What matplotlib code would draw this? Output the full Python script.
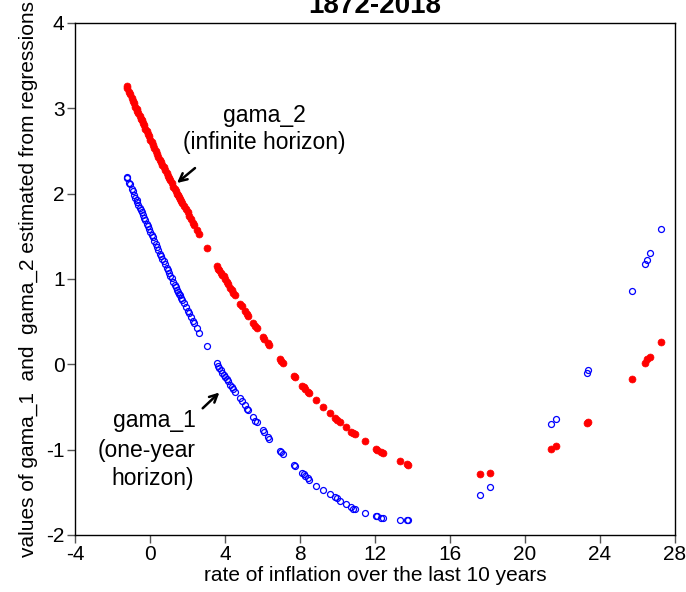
import matplotlib
matplotlib.use("Agg")
import matplotlib.pyplot as plt

plt.rcParams['font.family'] = ['Liberation Sans', 'DejaVu Sans']

# rate of inflation over the last 10 years
inflation = [
    -1.25, -1.22, -1.12, -1.08, -0.97, -0.92, -0.85, -0.78, -0.72, -0.68,
    -0.62, -0.55, -0.50, -0.45, -0.38, -0.33, -0.25, -0.18, -0.12, -0.05,
    0.02, 0.10, 0.15, 0.22, 0.30, 0.36, 0.45, 0.55, 0.60, 0.66,
    0.72, 0.80, 0.88, 0.95, 1.02, 1.08, 1.15, 1.25, 1.32, 1.38,
    1.45, 1.50, 1.55, 1.60, 1.66, 1.72, 1.80, 1.90, 2.00, 2.08,
    2.18, 2.28, 2.36, 2.48, 2.60, 3.02, 3.55, 3.62, 3.70, 3.78,
    3.85, 3.92, 4.00, 4.09, 4.18, 4.28, 4.35, 4.45, 4.53, 4.80,
    4.88, 5.06, 5.15, 5.22, 5.50, 5.62, 5.70, 6.04, 6.10, 6.28,
    6.35, 6.92, 7.00, 7.10, 7.68, 7.72, 8.11, 8.20, 8.29, 8.40,
    8.46, 8.87, 9.23, 9.58, 9.85, 9.95, 10.12, 10.47, 10.73, 10.85,
    10.91, 11.44, 12.03, 12.10, 12.33, 12.40, 13.34, 13.70, 13.78, 17.60,
    18.13, 21.41, 21.64, 23.29, 23.38, 25.70, 26.41, 26.48, 26.66, 27.26,
]

# gama_1 (one-year horizon)
gama_1 = [
    2.19, 2.18, 2.13, 2.11, 2.05, 2.03, 1.99, 1.95, 1.92, 1.90,
    1.87, 1.83, 1.81, 1.78, 1.75, 1.72, 1.69, 1.65, 1.62, 1.59,
    1.55, 1.51, 1.49, 1.45, 1.41, 1.38, 1.34, 1.29, 1.27, 1.24,
    1.21, 1.17, 1.13, 1.10, 1.07, 1.04, 1.01, 0.97, 0.93, 0.91,
    0.87, 0.85, 0.83, 0.81, 0.78, 0.75, 0.72, 0.67, 0.63, 0.60,
    0.55, 0.51, 0.48, 0.42, 0.37, 0.21, 0.01, -0.02, -0.04, -0.07,
    -0.10, -0.12, -0.15, -0.17, -0.20, -0.24, -0.26, -0.29, -0.32, -0.40,
    -0.43, -0.48, -0.52, -0.54, -0.62, -0.66, -0.68, -0.77, -0.79, -0.85,
    -0.87, -1.01, -1.03, -1.05, -1.18, -1.19, -1.27, -1.29, -1.31, -1.33,
    -1.35, -1.42, -1.47, -1.52, -1.56, -1.57, -1.60, -1.64, -1.67, -1.69,
    -1.70, -1.74, -1.78, -1.78, -1.80, -1.80, -1.82, -1.82, -1.82, -1.53,
    -1.44, -0.70, -0.64, -0.10, -0.07, 0.86, 1.18, 1.22, 1.30, 1.59,
]

# gama_2 (infinite horizon)
gama_2 = [
    3.26, 3.24, 3.19, 3.17, 3.12, 3.09, 3.06, 3.02, 2.99, 2.97,
    2.94, 2.91, 2.88, 2.86, 2.83, 2.80, 2.76, 2.73, 2.70, 2.67,
    2.63, 2.60, 2.57, 2.54, 2.50, 2.47, 2.43, 2.39, 2.37, 2.34,
    2.31, 2.28, 2.24, 2.21, 2.18, 2.16, 2.13, 2.08, 2.05, 2.03,
    2.00, 1.98, 1.96, 1.94, 1.91, 1.89, 1.86, 1.82, 1.78, 1.74,
    1.70, 1.66, 1.63, 1.58, 1.53, 1.36, 1.15, 1.12, 1.10, 1.07,
    1.05, 1.03, 1.00, 0.97, 0.94, 0.90, 0.87, 0.84, 0.81, 0.71,
    0.68, 0.62, 0.59, 0.57, 0.49, 0.45, 0.43, 0.32, 0.30, 0.25,
    0.23, 0.06, 0.04, 0.02, -0.14, -0.15, -0.25, -0.27, -0.29, -0.32,
    -0.34, -0.42, -0.50, -0.57, -0.63, -0.65, -0.68, -0.74, -0.79, -0.81,
    -0.82, -0.90, -0.99, -1.00, -1.03, -1.04, -1.13, -1.17, -1.18, -1.29,
    -1.27, -0.99, -0.96, -0.69, -0.67, -0.17, 0.02, 0.06, 0.09, 0.26,
]

x_ticks = [-4, 0, 4, 8, 12, 16, 20, 24, 28]
y_ticks = [-2, -1, 0, 1, 2, 3, 4]

fig = plt.figure(figsize=(6.86, 5.92), dpi=100)
ax = fig.add_axes([75 / 686, 57 / 592, 600 / 686, 512 / 592])

ax.plot(inflation, gama_2, linestyle='none', marker='o', markersize=5.0,
        markerfacecolor='#ff0000', markeredgecolor='#ff0000', markeredgewidth=0.5)
ax.plot(inflation, gama_1, linestyle='none', marker='o', markersize=4.3,
        markerfacecolor='none', markeredgecolor='#0000ff', markeredgewidth=0.9)

ax.set_xlim(-4, 28)
ax.set_ylim(-2, 4)
ax.set_xticks(x_ticks)
ax.set_yticks(y_ticks)
ax.set_xticklabels([str(t) for t in x_ticks])
ax.set_yticklabels([str(t) for t in y_ticks])
ax.tick_params(axis='both', direction='out', length=5.5, width=1.0,
               color='#555555', labelsize=15, pad=2)
for s in ax.spines.values():
    s.set_linewidth(1.0)
    s.set_color('black')

ax.set_xlabel('rate of inflation over the last 10 years', fontsize=15, labelpad=1)
ax.set_ylabel('values of gama_1  and  gama_2 estimated from regressions',
              fontsize=15, labelpad=6)

fig.text((75 + 675) / 2 / 686, 1 - 13 / 592, '1872-2018', ha='center',
         va='baseline', fontsize=20, fontweight='bold')

# annotations
ax.text(6.08, 2.84, 'gama_2', ha='center', va='baseline', fontsize=16.5)
ax.text(6.08, 2.523, '(infinite horizon)', ha='center', va='baseline', fontsize=16.5)
ax.annotate('', xy=(1.44, 2.125), xytext=(2.40, 2.30),
            arrowprops=dict(arrowstyle='->', color='black', lw=1.8,
                            mutation_scale=14, shrinkA=0, shrinkB=0))

ax.text(2.45, -0.735, 'gama_1', ha='right', va='baseline', fontsize=16.5)
ax.text(2.45, -1.086, '(one-year', ha='right', va='baseline', fontsize=16.5)
ax.text(2.35, -1.414, 'horizon)', ha='right', va='baseline', fontsize=16.5)
ax.annotate('', xy=(3.70, -0.33), xytext=(2.81, -0.515),
            arrowprops=dict(arrowstyle='->', color='black', lw=1.8,
                            mutation_scale=14, shrinkA=0, shrinkB=0))

fig.savefig('out.png', dpi=100)
